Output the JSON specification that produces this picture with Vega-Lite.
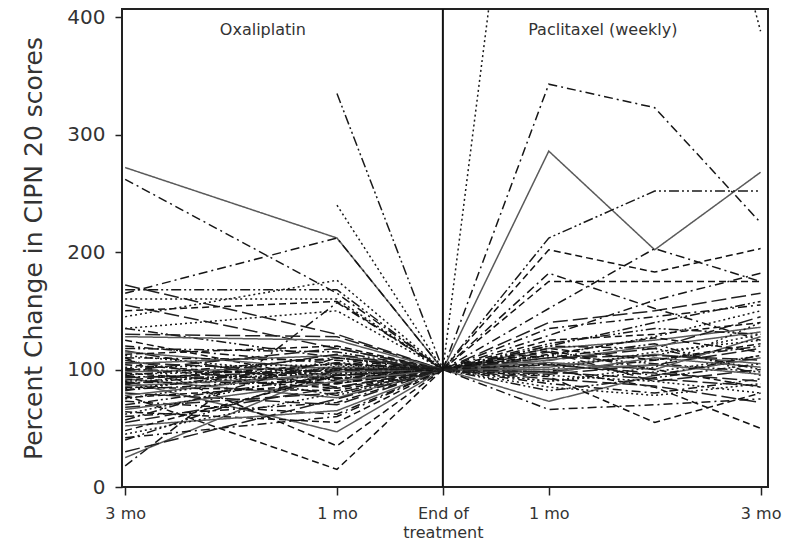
{
"$schema":"https://vega.github.io/schema/vega-lite/v6.json",
"width":646,"height":478,
"autosize":{"type":"none"},
"padding":{"left":122,"top":9,"right":19,"bottom":66},
"background":"white",
"config":{"view":{"stroke":"#222","strokeWidth":2},"font":"DejaVu Sans"},
"layer":[
{"data":{"values":[
{"p":"L01","t":-3,"v":272},{"p":"L01","t":-1,"v":212},{"p":"L01","t":0,"v":100},
{"p":"L02","t":-3,"v":78},{"p":"L02","t":-1,"v":15},{"p":"L02","t":0,"v":100},
{"p":"L03","t":-1,"v":240},{"p":"L03","t":0,"v":100},
{"p":"L04","t":-3,"v":262},{"p":"L04","t":-1,"v":165},{"p":"L04","t":0,"v":100},
{"p":"L05","t":-1,"v":335},{"p":"L05","t":0,"v":100},
{"p":"L06","t":-3,"v":172},{"p":"L06","t":-1,"v":130},{"p":"L06","t":0,"v":100},
{"p":"L07","t":-3,"v":25},{"p":"L07","t":-1,"v":100},{"p":"L07","t":0,"v":100},
{"p":"L08","t":-3,"v":150},{"p":"L08","t":-1,"v":158},{"p":"L08","t":0,"v":100},
{"p":"L09","t":-3,"v":160},{"p":"L09","t":-1,"v":160},{"p":"L09","t":0,"v":100},
{"p":"L10","t":-3,"v":165},{"p":"L10","t":-1,"v":212},{"p":"L10","t":0,"v":100},
{"p":"L11","t":-3,"v":168},{"p":"L11","t":-1,"v":168},{"p":"L11","t":0,"v":100},
{"p":"L12","t":-3,"v":155},{"p":"L12","t":-1,"v":118},{"p":"L12","t":0,"v":100},
{"p":"L13","t":-3,"v":90},{"p":"L13","t":-1,"v":47},{"p":"L13","t":0,"v":100},
{"p":"L14","t":-3,"v":110},{"p":"L14","t":-1,"v":35},{"p":"L14","t":0,"v":100},
{"p":"L15","t":-3,"v":135},{"p":"L15","t":-1,"v":150},{"p":"L15","t":0,"v":100},
{"p":"L16","t":-3,"v":18},{"p":"L16","t":-1,"v":157},{"p":"L16","t":0,"v":100},
{"p":"L17","t":-3,"v":135},{"p":"L17","t":-1,"v":110},{"p":"L17","t":0,"v":100},
{"p":"L18","t":-3,"v":130},{"p":"L18","t":-1,"v":128},{"p":"L18","t":0,"v":100},
{"p":"L19","t":-3,"v":128},{"p":"L19","t":-1,"v":125},{"p":"L19","t":0,"v":100},
{"p":"L20","t":-3,"v":125},{"p":"L20","t":-1,"v":90},{"p":"L20","t":0,"v":100},
{"p":"L21","t":-3,"v":145},{"p":"L21","t":-1,"v":176},{"p":"L21","t":0,"v":100},
{"p":"L22","t":-3,"v":120},{"p":"L22","t":-1,"v":105},{"p":"L22","t":0,"v":100},
{"p":"L23","t":-3,"v":118},{"p":"L23","t":-1,"v":115},{"p":"L23","t":0,"v":100},
{"p":"L24","t":-3,"v":116},{"p":"L24","t":-1,"v":85},{"p":"L24","t":0,"v":100},
{"p":"L25","t":-3,"v":115},{"p":"L25","t":-1,"v":100},{"p":"L25","t":0,"v":100},
{"p":"L26","t":-3,"v":113},{"p":"L26","t":-1,"v":120},{"p":"L26","t":0,"v":100},
{"p":"L27","t":-3,"v":112},{"p":"L27","t":-1,"v":95},{"p":"L27","t":0,"v":100},
{"p":"L28","t":-3,"v":110},{"p":"L28","t":-1,"v":108},{"p":"L28","t":0,"v":100},
{"p":"L29","t":-3,"v":108},{"p":"L29","t":-1,"v":78},{"p":"L29","t":0,"v":100},
{"p":"L30","t":-3,"v":106},{"p":"L30","t":-1,"v":98},{"p":"L30","t":0,"v":100},
{"p":"L31","t":-3,"v":105},{"p":"L31","t":-1,"v":112},{"p":"L31","t":0,"v":100},
{"p":"L32","t":-3,"v":104},{"p":"L32","t":-1,"v":92},{"p":"L32","t":0,"v":100},
{"p":"L33","t":-3,"v":102},{"p":"L33","t":-1,"v":104},{"p":"L33","t":0,"v":100},
{"p":"L34","t":-3,"v":101},{"p":"L34","t":-1,"v":88},{"p":"L34","t":0,"v":100},
{"p":"L35","t":-3,"v":100},{"p":"L35","t":-1,"v":96},{"p":"L35","t":0,"v":100},
{"p":"L36","t":-3,"v":99},{"p":"L36","t":-1,"v":118},{"p":"L36","t":0,"v":100},
{"p":"L37","t":-3,"v":98},{"p":"L37","t":-1,"v":102},{"p":"L37","t":0,"v":100},
{"p":"L38","t":-3,"v":97},{"p":"L38","t":-1,"v":84},{"p":"L38","t":0,"v":100},
{"p":"L39","t":-3,"v":96},{"p":"L39","t":-1,"v":100},{"p":"L39","t":0,"v":100},
{"p":"L40","t":-3,"v":95},{"p":"L40","t":-1,"v":110},{"p":"L40","t":0,"v":100},
{"p":"L41","t":-3,"v":94},{"p":"L41","t":-1,"v":93},{"p":"L41","t":0,"v":100},
{"p":"L42","t":-3,"v":93},{"p":"L42","t":-1,"v":99},{"p":"L42","t":0,"v":100},
{"p":"L43","t":-3,"v":92},{"p":"L43","t":-1,"v":76},{"p":"L43","t":0,"v":100},
{"p":"L44","t":-3,"v":91},{"p":"L44","t":-1,"v":105},{"p":"L44","t":0,"v":100},
{"p":"L45","t":-3,"v":90},{"p":"L45","t":-1,"v":97},{"p":"L45","t":0,"v":100},
{"p":"L46","t":-3,"v":89},{"p":"L46","t":-1,"v":89},{"p":"L46","t":0,"v":100},
{"p":"L47","t":-3,"v":88},{"p":"L47","t":-1,"v":101},{"p":"L47","t":0,"v":100},
{"p":"L48","t":-3,"v":87},{"p":"L48","t":-1,"v":113},{"p":"L48","t":0,"v":100},
{"p":"L49","t":-3,"v":86},{"p":"L49","t":-1,"v":95},{"p":"L49","t":0,"v":100},
{"p":"L50","t":-3,"v":85},{"p":"L50","t":-1,"v":82},{"p":"L50","t":0,"v":100},
{"p":"L51","t":-3,"v":84},{"p":"L51","t":-1,"v":100},{"p":"L51","t":0,"v":100},
{"p":"L52","t":-3,"v":83},{"p":"L52","t":-1,"v":92},{"p":"L52","t":0,"v":100},
{"p":"L53","t":-3,"v":82},{"p":"L53","t":-1,"v":106},{"p":"L53","t":0,"v":100},
{"p":"L54","t":-3,"v":80},{"p":"L54","t":-1,"v":70},{"p":"L54","t":0,"v":100},
{"p":"L55","t":-3,"v":78},{"p":"L55","t":-1,"v":98},{"p":"L55","t":0,"v":100},
{"p":"L56","t":-3,"v":76},{"p":"L56","t":-1,"v":88},{"p":"L56","t":0,"v":100},
{"p":"L57","t":-3,"v":75},{"p":"L57","t":-1,"v":103},{"p":"L57","t":0,"v":100},
{"p":"L58","t":-3,"v":73},{"p":"L58","t":-1,"v":62},{"p":"L58","t":0,"v":100},
{"p":"L59","t":-3,"v":70},{"p":"L59","t":-1,"v":95},{"p":"L59","t":0,"v":100},
{"p":"L60","t":-3,"v":68},{"p":"L60","t":-1,"v":80},{"p":"L60","t":0,"v":100},
{"p":"L61","t":-3,"v":66},{"p":"L61","t":-1,"v":90},{"p":"L61","t":0,"v":100},
{"p":"L62","t":-3,"v":64},{"p":"L62","t":-1,"v":55},{"p":"L62","t":0,"v":100},
{"p":"L63","t":-3,"v":62},{"p":"L63","t":-1,"v":100},{"p":"L63","t":0,"v":100},
{"p":"L64","t":-3,"v":60},{"p":"L64","t":-1,"v":72},{"p":"L64","t":0,"v":100},
{"p":"L65","t":-3,"v":57},{"p":"L65","t":-1,"v":110},{"p":"L65","t":0,"v":100},
{"p":"L66","t":-3,"v":55},{"p":"L66","t":-1,"v":85},{"p":"L66","t":0,"v":100},
{"p":"L67","t":-3,"v":52},{"p":"L67","t":-1,"v":65},{"p":"L67","t":0,"v":100},
{"p":"L68","t":-3,"v":48},{"p":"L68","t":-1,"v":95},{"p":"L68","t":0,"v":100},
{"p":"L69","t":-3,"v":45},{"p":"L69","t":-1,"v":80},{"p":"L69","t":0,"v":100},
{"p":"L70","t":-3,"v":42},{"p":"L70","t":-1,"v":60},{"p":"L70","t":0,"v":100},
{"p":"L71","t":-3,"v":40},{"p":"L71","t":-1,"v":100},{"p":"L71","t":0,"v":100},
{"p":"L72","t":-3,"v":30},{"p":"L72","t":-1,"v":75},{"p":"L72","t":0,"v":100},
{"p":"P01","t":0,"v":100},{"p":"P01","t":1,"v":286},{"p":"P01","t":2,"v":202},{"p":"P01","t":3,"v":268},
{"p":"P02","t":0,"v":100},{"p":"P02","t":1,"v":202},{"p":"P02","t":2,"v":183},{"p":"P02","t":3,"v":203},
{"p":"P03","t":0,"v":100},{"p":"P03","t":1,"v":810},{"p":"P03","t":2,"v":727},{"p":"P03","t":3,"v":388},
{"p":"P04","t":0,"v":100},{"p":"P04","t":1,"v":343},{"p":"P04","t":2,"v":323},{"p":"P04","t":3,"v":225},
{"p":"P05","t":0,"v":100},{"p":"P05","t":1,"v":212},{"p":"P05","t":2,"v":252},{"p":"P05","t":3,"v":252},
{"p":"P06","t":0,"v":100},{"p":"P06","t":1,"v":140},{"p":"P06","t":2,"v":150},{"p":"P06","t":3,"v":165},
{"p":"P07","t":0,"v":100},{"p":"P07","t":1,"v":118},{"p":"P07","t":2,"v":125},{"p":"P07","t":3,"v":136},
{"p":"P08","t":0,"v":100},{"p":"P08","t":1,"v":175},{"p":"P08","t":2,"v":175},{"p":"P08","t":3,"v":175},
{"p":"P09","t":0,"v":100},{"p":"P09","t":1,"v":112},{"p":"P09","t":2,"v":128},{"p":"P09","t":3,"v":150},
{"p":"P10","t":0,"v":100},{"p":"P10","t":1,"v":152},{"p":"P10","t":2,"v":203},{"p":"P10","t":3,"v":175},
{"p":"P11","t":0,"v":100},{"p":"P11","t":1,"v":120},{"p":"P11","t":2,"v":140},{"p":"P11","t":3,"v":158},
{"p":"P12","t":0,"v":100},{"p":"P12","t":1,"v":108},{"p":"P12","t":2,"v":118},{"p":"P12","t":3,"v":145},
{"p":"P13","t":0,"v":100},{"p":"P13","t":1,"v":73},{"p":"P13","t":2,"v":95},{"p":"P13","t":3,"v":110},
{"p":"P14","t":0,"v":100},{"p":"P14","t":1,"v":94},{"p":"P14","t":2,"v":55},{"p":"P14","t":3,"v":80},
{"p":"P15","t":0,"v":100},{"p":"P15","t":1,"v":104},{"p":"P15","t":2,"v":112},{"p":"P15","t":3,"v":130},
{"p":"P16","t":0,"v":100},{"p":"P16","t":1,"v":182},{"p":"P16","t":2,"v":152},{"p":"P16","t":3,"v":125},
{"p":"P17","t":0,"v":100},{"p":"P17","t":1,"v":98},{"p":"P17","t":2,"v":108},{"p":"P17","t":3,"v":120},
{"p":"P18","t":0,"v":100},{"p":"P18","t":1,"v":115},{"p":"P18","t":2,"v":90},{"p":"P18","t":3,"v":100},
{"p":"P19","t":0,"v":100},{"p":"P19","t":1,"v":106},{"p":"P19","t":2,"v":100},{"p":"P19","t":3,"v":128},
{"p":"P20","t":0,"v":100},{"p":"P20","t":1,"v":100},{"p":"P20","t":2,"v":85},{"p":"P20","t":3,"v":50},
{"p":"P21","t":0,"v":100},{"p":"P21","t":1,"v":90},{"p":"P21","t":2,"v":98},{"p":"P21","t":3,"v":112},
{"p":"P22","t":0,"v":100},{"p":"P22","t":1,"v":129},{"p":"P22","t":2,"v":159},{"p":"P22","t":3,"v":182},
{"p":"P23","t":0,"v":100},{"p":"P23","t":1,"v":110},{"p":"P23","t":2,"v":122},{"p":"P23","t":3,"v":95},
{"p":"P24","t":0,"v":100},{"p":"P24","t":1,"v":96},{"p":"P24","t":2,"v":104},{"p":"P24","t":3,"v":118},
{"p":"P25","t":0,"v":100},{"p":"P25","t":1,"v":102},{"p":"P25","t":2,"v":113},{"p":"P25","t":3,"v":105},
{"p":"P26","t":0,"v":100},{"p":"P26","t":1,"v":125},{"p":"P26","t":2,"v":130},{"p":"P26","t":3,"v":140},
{"p":"P27","t":0,"v":100},{"p":"P27","t":1,"v":85},{"p":"P27","t":2,"v":78},{"p":"P27","t":3,"v":88},
{"p":"P28","t":0,"v":100},{"p":"P28","t":1,"v":66},{"p":"P28","t":2,"v":70},{"p":"P28","t":3,"v":75},
{"p":"P29","t":0,"v":100},{"p":"P29","t":1,"v":112},{"p":"P29","t":2,"v":105},{"p":"P29","t":3,"v":98},
{"p":"P30","t":0,"v":100},{"p":"P30","t":1,"v":92},{"p":"P30","t":2,"v":86},{"p":"P30","t":3,"v":72},
{"p":"P31","t":0,"v":100},{"p":"P31","t":1,"v":108},{"p":"P31","t":2,"v":120},{"p":"P31","t":3,"v":132},
{"p":"P32","t":0,"v":100},{"p":"P32","t":1,"v":116},{"p":"P32","t":2,"v":100},{"p":"P32","t":3,"v":85},
{"p":"P33","t":0,"v":100},{"p":"P33","t":1,"v":100},{"p":"P33","t":2,"v":115},{"p":"P33","t":3,"v":125},
{"p":"P34","t":0,"v":100},{"p":"P34","t":1,"v":88},{"p":"P34","t":2,"v":80},{"p":"P34","t":3,"v":92},
{"p":"P35","t":0,"v":100},{"p":"P35","t":1,"v":122},{"p":"P35","t":2,"v":135},{"p":"P35","t":3,"v":130},
{"p":"P36","t":0,"v":100},{"p":"P36","t":1,"v":104},{"p":"P36","t":2,"v":97},{"p":"P36","t":3,"v":90},
{"p":"P37","t":0,"v":100},{"p":"P37","t":1,"v":97},{"p":"P37","t":2,"v":110},{"p":"P37","t":3,"v":102},
{"p":"P38","t":0,"v":100},{"p":"P38","t":1,"v":113},{"p":"P38","t":2,"v":127},{"p":"P38","t":3,"v":115},
{"p":"P39","t":0,"v":100},{"p":"P39","t":1,"v":95},{"p":"P39","t":2,"v":90},{"p":"P39","t":3,"v":80},
{"p":"P40","t":0,"v":100},{"p":"P40","t":1,"v":135},{"p":"P40","t":2,"v":145},{"p":"P40","t":3,"v":155},
{"p":"P41","t":0,"v":100},{"p":"P41","t":1,"v":82},{"p":"P41","t":2,"v":93},{"p":"P41","t":3,"v":105},
{"p":"P42","t":0,"v":100},{"p":"P42","t":1,"v":110},{"p":"P42","t":2,"v":112},{"p":"P42","t":3,"v":108},
{"p":"P43","t":0,"v":100},{"p":"P43","t":1,"v":100},{"p":"P43","t":2,"v":104},{"p":"P43","t":3,"v":96},
{"p":"P44","t":0,"v":100},{"p":"P44","t":1,"v":118},{"p":"P44","t":2,"v":108},{"p":"P44","t":3,"v":122},
{"p":"P45","t":0,"v":100},{"p":"P45","t":1,"v":90},{"p":"P45","t":2,"v":102},{"p":"P45","t":3,"v":140},
{"p":"P46","t":0,"v":100},{"p":"P46","t":1,"v":105},{"p":"P46","t":2,"v":95},{"p":"P46","t":3,"v":112},
{"p":"P47","t":0,"v":100},{"p":"P47","t":1,"v":120},{"p":"P47","t":2,"v":118},{"p":"P47","t":3,"v":100},
{"p":"P48","t":0,"v":100},{"p":"P48","t":1,"v":98},{"p":"P48","t":2,"v":92},{"p":"P48","t":3,"v":86}
]},
"mark":{"type":"line","clip":true,"strokeWidth":1.5},
"encoding":{
"x":{"field":"t","type":"quantitative","scale":{"domain":[-3.03,3.07],"nice":false,"zero":false},
"axis":{"values":[-3,-1,0,1,3],"labelExpr":"datum.value == 0 ? ['End of','treatment'] : (abs(datum.value) == 3 ? '3 mo' : '1 mo')","title":null,"grid":false,"domain":false,"tickSize":8,"tickWidth":1.5,"tickColor":"#222","labelPadding":10,"labelFontSize":16,"labelLineHeight":19,"labelColor":"#333","labelFlush":false,"labelOverlap":false}},
"y":{"field":"v","type":"quantitative","scale":{"domain":[0,407],"nice":false,"zero":false},
"axis":{"values":[0,100,200,300,400],"title":"Percent Change in CIPN 20 scores","titleFontSize":25,"titleFontWeight":"normal","titleColor":"#333","titlePadding":20,"grid":false,"domain":false,"tickSize":7,"tickWidth":1.5,"tickColor":"#222","labelPadding":10,"labelFontSize":20,"labelColor":"#333"}},
"strokeDash":{"field":"p","type":"nominal","scale":{"range":[[1,0],[7,4],[2,3],[9,4,2,4],[10,3,2,3,2,3],[15,5]]},"legend":null},
"color":{"field":"p","type":"nominal","scale":{"range":["#5a5a5a","#111111","#1a1a1a","#151515","#1a1a1a","#202020"]},"legend":null}
}},
{"data":{"values":[{"t":0}]},"mark":{"type":"rule","color":"#111","strokeWidth":2},"encoding":{"x":{"field":"t","type":"quantitative"}}},
{"data":{"values":[{"label":"Oxaliplatin","t":-1.7,"v":389},{"label":"Paclitaxel (weekly)","t":1.51,"v":389}]},
"mark":{"type":"text","fontSize":16,"color":"#333"},
"encoding":{"x":{"field":"t","type":"quantitative"},"y":{"field":"v","type":"quantitative"},"text":{"field":"label"}}}
]
}
